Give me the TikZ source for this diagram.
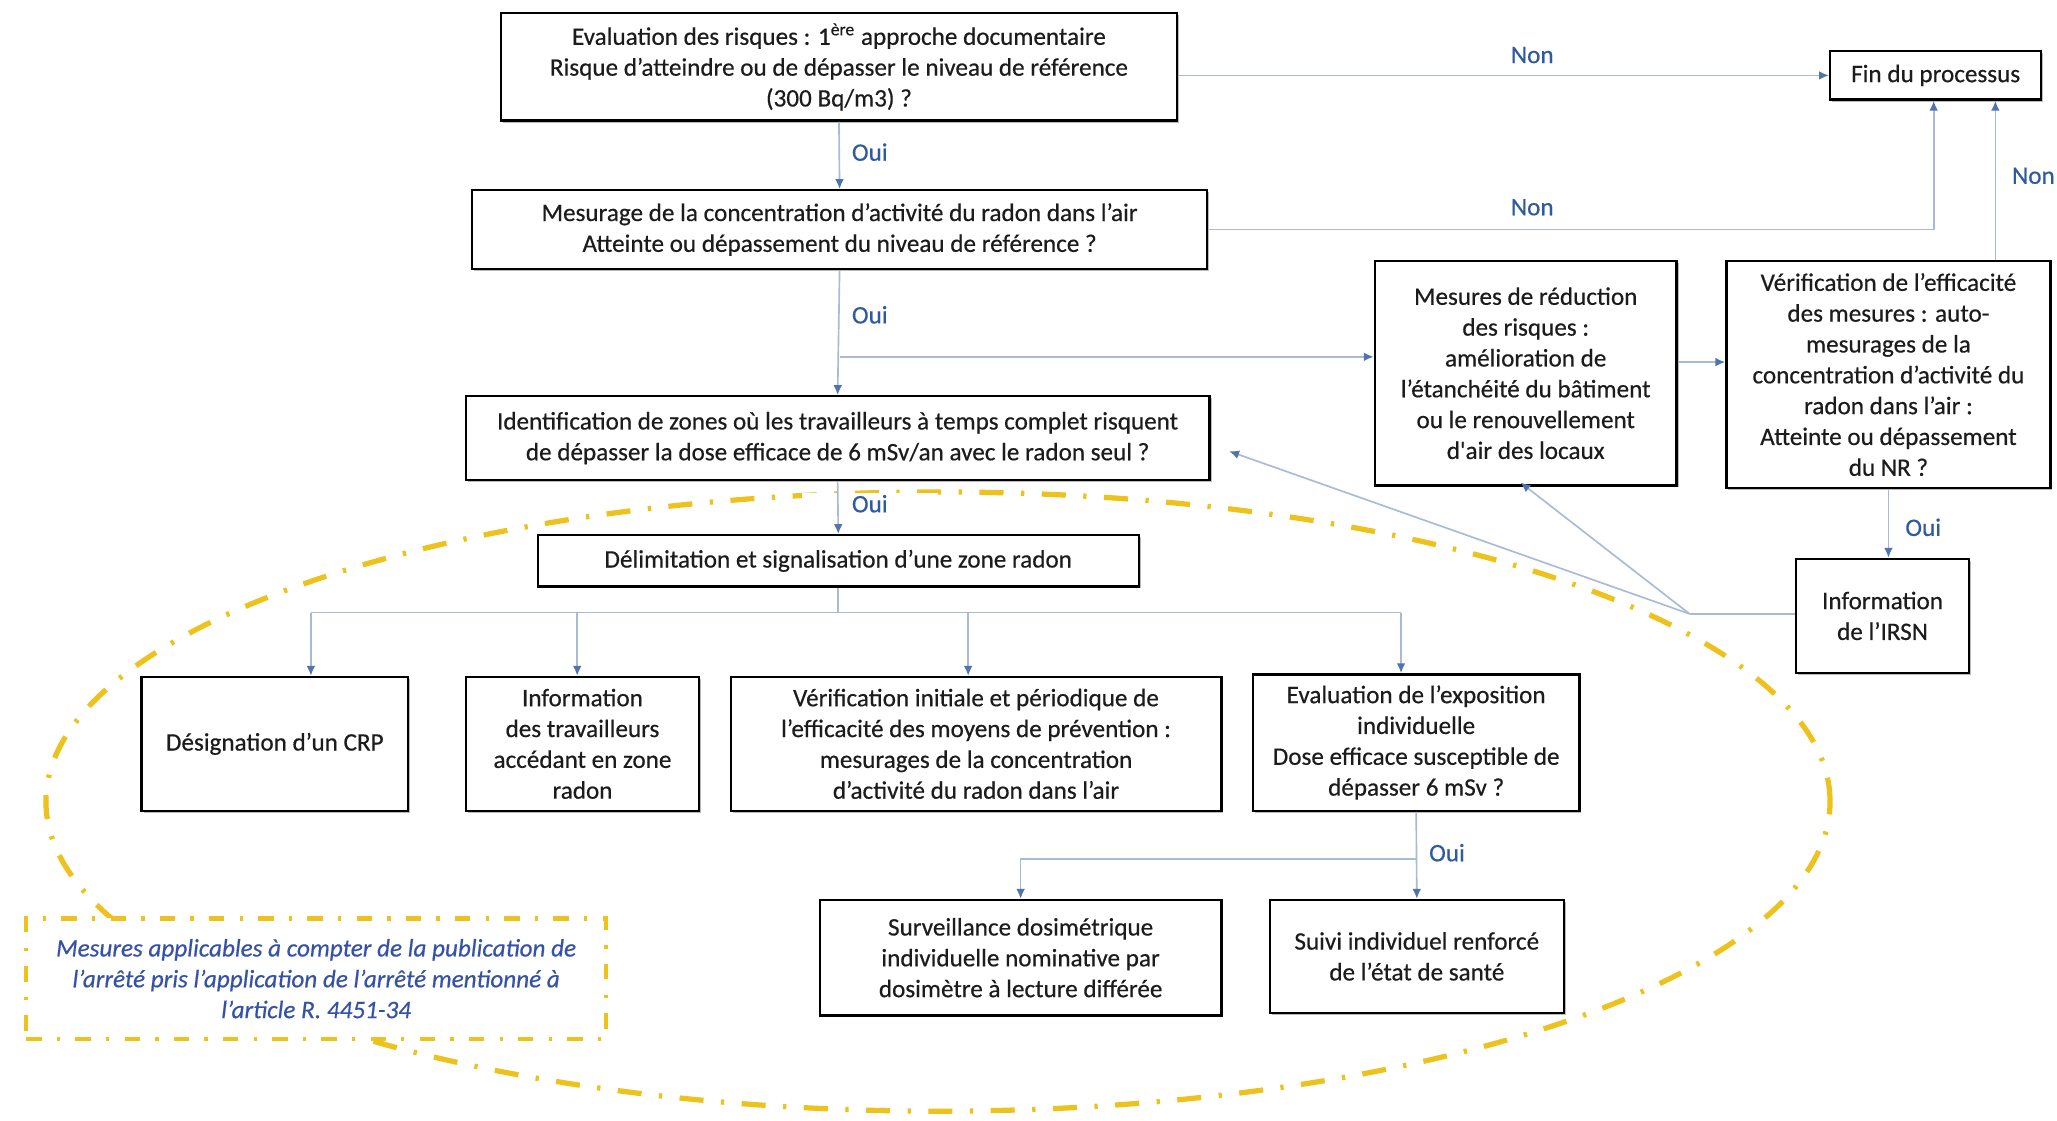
\documentclass[tikz,border=0pt]{standalone}
\usepackage{fontspec}
\setmainfont{Carlito}
\newfontfamily\heavyfam{Carlito}[FakeBold=0.45]
\usetikzlibrary{arrows.meta,shadows}
\definecolor{linec}{HTML}{A8BAD6}
\definecolor{tipc}{HTML}{4F74B0}
\definecolor{labc}{HTML}{2F5AA0}
\definecolor{gold}{HTML}{EEC21C}
\definecolor{notec}{HTML}{3552A6}
\definecolor{ink}{HTML}{1C1C1C}
\newcommand\boxfont{\heavyfam\fontsize{11.5}{14.1}\selectfont}
\begin{document}
\begin{tikzpicture}[x=0.6pt,y=-0.6pt,
  box/.style={draw=black, line width=1.1pt, fill=white, align=center, text=ink,
    inner sep=2pt, font=\boxfont,
    drop shadow={shadow xshift=0.9pt, shadow yshift=-0.9pt, opacity=0.45, fill=black!60}},
  conn/.style={draw=linec, line width=0.75pt},
  arr/.style={conn, -{Latex[length=4.5pt,width=4pt,color=tipc]}},
  lab/.style={text=labc, font=\boxfont, inner sep=1pt},
  zone/.style={draw=gold, line width=2.4pt, dash pattern=on 11pt off 8pt on 1.5pt off 8pt},
  note/.style={draw=gold, line width=2pt, dash pattern=on 7pt off 7pt on 1.5pt off 7pt,
    fill=white, align=center, text=notec, font=\boxfont\itshape}
]
\useasboundingbox[fill=white] (0,0) rectangle (1568,854);

% zone radon outline
\draw[zone] (715,611) ellipse [x radius=408pt, y radius=141.6pt];

% note about applicable measures
\node[note, minimum width=265.2pt, minimum height=55.2pt] (note) at (241,746)
  {Mesures applicables à compter de la publication de\\l’arrêté pris l’application de l’arrêté mentionné à\\l’article R. 4451-34};

% process boxes
\node[box, minimum width=309pt, minimum height=49.2pt] (eval) at (639.5,51)
  {Evaluation des risques : 1\textsuperscript{ère} approche documentaire\\Risque d’atteindre ou de dépasser le niveau de référence\\(300 Bq/m3) ?};
\node[box, minimum width=96.6pt, minimum height=22.2pt] (fin) at (1475.5,57.5) {Fin du processus};
\node[box, minimum width=336pt, minimum height=36pt] (mes) at (640,175)
  {Mesurage de la concentration d’activité du radon dans l’air\\Atteinte ou dépassement du niveau de référence ?};
\node[box, minimum width=340.2pt, minimum height=38.4pt] (ident) at (638.5,334)
  {Identification de zones où les travailleurs à temps complet risquent\\de dépasser la dose efficace de 6 mSv/an avec le radon seul ?};
\node[box, minimum width=138pt, minimum height=102.6pt] (red) at (1163,284.5)
  {Mesures de réduction\\des risques :\\amélioration de\\l’étanchéité du bâtiment\\ou le renouvellement\\d'air des locaux};
\node[box, minimum width=148.2pt, minimum height=103.8pt] (verif) at (1439.5,285.5)
  {Vérification de l’efficacité\\des mesures : auto-\\mesurages de la\\concentration d’activité du\\radon dans l’air :\\Atteinte ou dépassement\\du NR ?};
\node[box, minimum width=79.2pt, minimum height=52.2pt] (irsn) at (1435,469.5) {Information\\de l’IRSN};
\node[box, minimum width=274.8pt, minimum height=23.4pt] (delim) at (639,427.5)
  {Délimitation et signalisation d’une zone radon};
\node[box, minimum width=121.8pt, minimum height=61.2pt] (crp) at (209.5,567) {Désignation d’un CRP};
\node[box, minimum width=106.8pt, minimum height=61.2pt] (itrav) at (444,567)
  {Information\\des travailleurs\\accédant en zone\\radon};
\node[box, minimum width=224.4pt, minimum height=61.2pt] (vinit) at (744,567)
  {Vérification initiale et périodique de\\l’efficacité des moyens de prévention :\\mesurages de la concentration\\d’activité du radon dans l’air};
\node[box, minimum width=149.4pt, minimum height=62.4pt] (expo) at (1079.5,566)
  {Evaluation de l’exposition\\individuelle\\Dose efficace susceptible de\\dépasser 6 mSv ?};
\node[box, minimum width=183.6pt, minimum height=52.8pt] (surv) at (778,730)
  {Surveillance dosimétrique\\individuelle nominative par\\dosimètre à lecture différée};
\node[box, minimum width=134.4pt, minimum height=51.6pt] (suivi) at (1080,729)
  {Suivi individuel renforcé\\de l’état de santé};

% answer labels
\node[lab] (n1) at (1168,42) {Non};
\node[lab] (n2) at (1168,158) {Non};
\node[lab] (n3) at (1550,134) {Non};
\node[lab] (o1) at (663,116) {Oui};
\node[lab] (o2) at (663,240) {Oui};
\node[lab, fill=white, minimum width=62pt] (o3) at (663,384) {Oui};
\node[lab] (o4) at (1466,402) {Oui};
\node[lab] (o5) at (1103,650) {Oui};

% bend points
\coordinate (fx) at (1474,0);
\coordinate (vx) at (1521,0);
\coordinate (br) at (640,272);
\coordinate (rv) at (0,276);
\coordinate (jn) at (1288,468);
\coordinate (idt) at (937,344);
\coordinate (b1) at (237,467);
\coordinate (b2) at (440,467);
\coordinate (b3) at (738,467);
\coordinate (b4) at (1068,467);
\coordinate (ob) at (1080,655);

% connectors
\draw[arr] (eval.south) -- (mes.north);
\draw[arr] (eval.east |- fin.west) -- (fin.west);
\draw[arr] (mes.east) -| (fx |- fin.south);
\draw[arr] (mes.south) -- (ident.north);
\draw[arr] (br) -- (br -| red.west);
\draw[arr] (red.east |- rv) -- (verif.west |- rv);
\draw[arr] (vx |- verif.north) -- (vx |- fin.south);
\draw[arr] (verif.south) -- (verif.south |- irsn.north);
\draw[conn] (irsn.west |- jn) -- (jn);
\draw[arr] (jn) -- (idt);
\draw[arr, shorten >=-3pt] (jn) -- (red.south);
\draw[arr] (ident.south) -- (delim.north);
\draw[conn] (delim.south) -- (delim.south |- b1);
\draw[conn] (b1) -- (b4);
\draw[arr] (b1) -- (b1 |- crp.north);
\draw[arr] (b2) -- (b2 |- itrav.north);
\draw[arr] (b3) -- (b3 |- vinit.north);
\draw[arr] (b4) -- (b4 |- expo.north);
\draw[arr] (expo.south) -- (suivi.north);
\draw[arr] (ob) -| (surv.north);
\end{tikzpicture}
\end{document}
